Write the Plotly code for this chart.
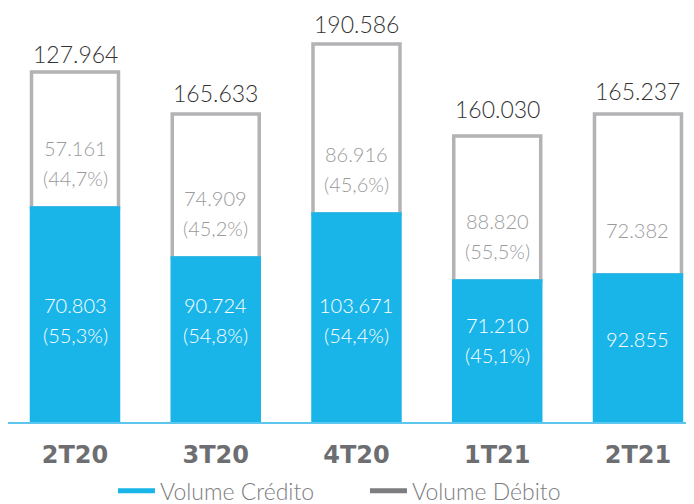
import plotly.graph_objects as go

# ---- data ----
categorias = ["2T20", "3T20", "4T20", "1T21", "2T21"]
# bar heights (chart units)
altura_credito = [214, 164, 208, 141, 147]
altura_debito = [136, 144, 170, 145, 161]
# printed values
total_volume = ["127.964", "165.633", "190.586", "160.030", "165.237"]
credito_volume = ["70.803", "90.724", "103.671", "71.210", "92.855"]
credito_pct = ["55,3%", "54,8%", "54,4%", "45,1%", ""]
debito_volume = ["57.161", "74.909", "86.916", "88.820", "72.382"]
debito_pct = ["44,7%", "45,2%", "45,6%", "55,5%", ""]

# ---- style ----
AZUL = "#19b5e9"
CINZA_BORDA = "#b3b3b6"
CINZA_TXT = "#9a9a9c"
CINZA_LEG = "#7d7d80"
FONT = "Lato"
BAR_W = 0.618
credito_label_yshift = [-5, 20, -2, 12, 10]
total_label_yshift = [18, 21, 20, 27, 23]

fig = go.Figure()

# debit (white, gray outline) stacked on credit
fig.add_trace(go.Bar(
    x=categorias, y=altura_debito, base=altura_credito, width=BAR_W,
    marker=dict(color="white", line=dict(color=CINZA_BORDA, width=3.5)),
    showlegend=False, hoverinfo="skip"))
# credit (blue)
fig.add_trace(go.Bar(
    x=categorias, y=altura_credito, width=BAR_W,
    marker=dict(color=AZUL, line=dict(color=AZUL, width=3.5)),
    showlegend=False, hoverinfo="skip"))

# legend entries
fig.add_trace(go.Scatter(x=[None], y=[None], mode="lines", name="Volume Crédito",
                         line=dict(color=AZUL, width=5)))
fig.add_trace(go.Scatter(x=[None], y=[None], mode="lines", name="Volume Débito",
                         line=dict(color=CINZA_LEG, width=5)))

ann = []
for i, c in enumerate(categorias):
    total = altura_credito[i] + altura_debito[i]
    ann.append(dict(x=c, y=total, text=total_volume[i], showarrow=False,
                    yanchor="middle", yshift=total_label_yshift[i],
                    font=dict(family=FONT, size=23, color="#333333", weight=300)))
    # debit labels
    anchor_d = altura_credito[i] + 45
    if debito_pct[i]:
        ann.append(dict(x=c, y=anchor_d, text=debito_volume[i], showarrow=False,
                        yanchor="middle", yshift=15,
                        font=dict(family=FONT, size=20, color=CINZA_TXT, weight=300)))
        ann.append(dict(x=c, y=anchor_d, text="(" + debito_pct[i] + ")", showarrow=False,
                        yanchor="middle", yshift=-15,
                        font=dict(family=FONT, size=20, color=CINZA_TXT, weight=300)))
    else:
        ann.append(dict(x=c, y=anchor_d, text=debito_volume[i], showarrow=False,
                        yanchor="middle",
                        font=dict(family=FONT, size=20, color=CINZA_TXT, weight=300)))
    # credit labels
    anchor_c = altura_credito[i] / 2
    ys = credito_label_yshift[i]
    if credito_pct[i]:
        ann.append(dict(x=c, y=anchor_c, text=credito_volume[i], showarrow=False,
                        yanchor="middle", yshift=ys + 15,
                        font=dict(family=FONT, size=20, color="white", weight=300)))
        ann.append(dict(x=c, y=anchor_c, text="(" + credito_pct[i] + ")", showarrow=False,
                        yanchor="middle", yshift=ys - 15,
                        font=dict(family=FONT, size=20, color="white", weight=300)))
    else:
        ann.append(dict(x=c, y=anchor_c, text=credito_volume[i], showarrow=False,
                        yanchor="middle", yshift=ys,
                        font=dict(family=FONT, size=20, color="white", weight=300)))

fig.update_layout(
    width=686, height=496,
    margin=dict(l=0, r=0, t=0, b=82, autoexpand=False),
    paper_bgcolor="white", plot_bgcolor="white",
    barmode="overlay",
    annotations=ann,
    xaxis=dict(range=[-0.476, 4.398], showgrid=False, zeroline=False,
               showline=True, linecolor="#5cc6ef", linewidth=2,
               ticks="outside", ticklen=10, tickcolor="rgba(0,0,0,0)",
               tickfont=dict(family="DejaVu Sans", size=24, color="#6d6e71", weight=700)),
    yaxis=dict(range=[0, 414], visible=False, showgrid=False, zeroline=False),
    legend=dict(orientation="h", x=0.153, xanchor="left", y=-0.166, yanchor="middle",
                entrywidth=200, entrywidthmode="pixels", itemwidth=37,
                font=dict(family=FONT, size=23, color=CINZA_LEG, weight=300),
                bgcolor="rgba(0,0,0,0)"),
)

fig.write_html("out.html")
